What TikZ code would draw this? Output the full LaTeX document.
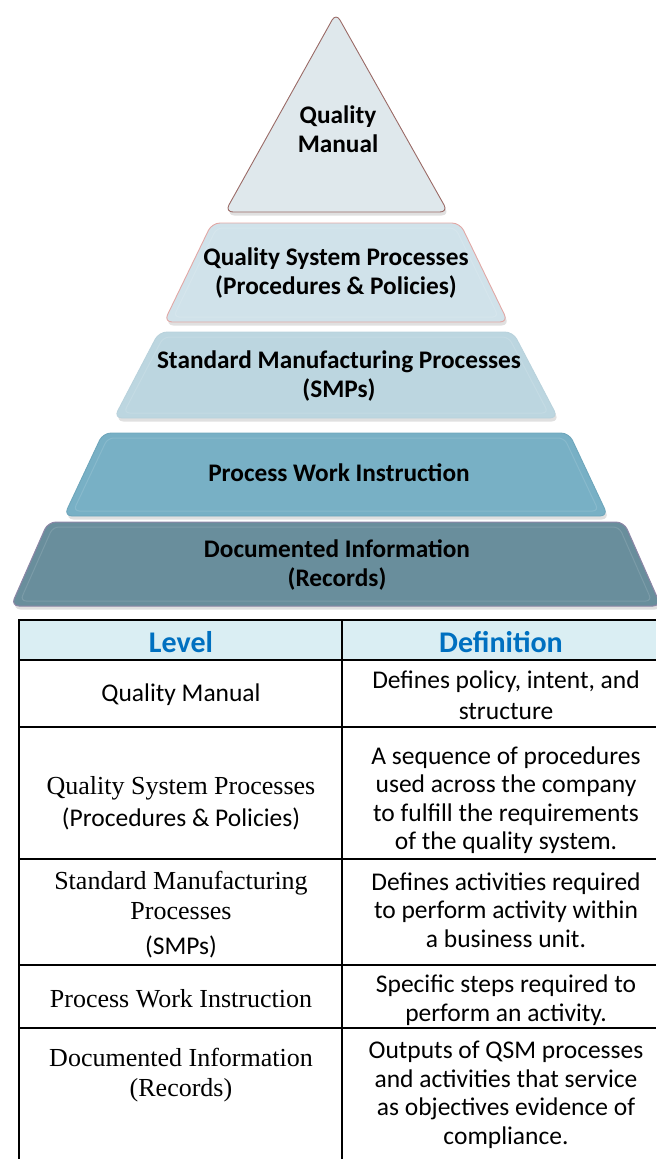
\documentclass[tikz,border=0pt]{standalone}
\usepackage{fontspec}
\setmainfont{Carlito}
\newfontfamily\timesfont{Liberation Serif}
\definecolor{qmfill}{HTML}{DFE8EC}
\definecolor{qmline}{HTML}{9A6A66}
\definecolor{qspfill}{HTML}{D0E2EA}
\definecolor{qspline}{HTML}{E2A7A4}
\definecolor{smpfill}{HTML}{BCD6E0}
\definecolor{smpline}{HTML}{B9D2DC}
\definecolor{pwifill}{HTML}{78B0C5}
\definecolor{pwiline}{HTML}{6FA6BB}
\definecolor{difill}{HTML}{698E9C}
\definecolor{diline}{HTML}{8C86A6}
\definecolor{headfill}{HTML}{DAEEF3}
\definecolor{headtext}{HTML}{0070C0}

% one layer of the pyramid: top y, bottom y, top half width, bottom half width, style
\newcommand\pyrlayer[5]{%
  \pgfmathsetmacro\lslope{(#4-#3)/(#2-#1)}%
  \pgfmathsetmacro\intop{#3+\lslope*5-7}%
  \pgfmathsetmacro\inbot{#4-\lslope*5-7}%
  \fill[layershade,rounded corners=8pt,shift={(1.5,3.5)}]
    (336-#3,#1) -- (336+#3,#1) -- (336+#4,#2) -- (336-#4,#2) -- cycle;
  \path[#5,rounded corners=8pt]
    (336-#3,#1) -- (336+#3,#1) -- (336+#4,#2) -- (336-#4,#2) -- cycle;
  % soft bevel just inside the edge
  \draw[bevel,rounded corners=6pt]
    (336-\intop,#1+5) -- (336+\intop,#1+5)
    -- (336+\inbot,#2-5) -- (336-\inbot,#2-5) -- cycle;
}

\begin{document}
\begin{tikzpicture}[x=1pt,y=-1pt,
  layershade/.style={fill=black,opacity=0.12},
  bevel/.style={draw=white,opacity=0.12,line width=1pt},
  pyrtext/.style={align=center,inner sep=0pt,
    font=\bfseries\fontsize{25.3}{28.5}\selectfont},
  cell/.style={align=center,inner sep=0pt,
    font=\fontsize{25.5}{28.5}\selectfont},
  headcell/.style={inner sep=0pt,text=headtext,
    font=\bfseries\fontsize{30}{34}\selectfont},
  rule/.style={line width=2pt,black}]
\useasboundingbox (0,0) rectangle (656,1159);

% ---- pyramid ----
\fill[layershade,rounded corners=8pt,shift={(1.5,3.5)}]
  (336,13) -- (448,212) -- (225,212) -- cycle;
\path[fill=qmfill,draw=qmline,line width=0.9pt,rounded corners=8pt]
  (336,13) -- (448,212) -- (225,212) -- cycle;
\pyrlayer{223}{322}{124}{172}{fill=qspfill,draw=qspline,line width=0.9pt}
\pyrlayer{332}{418}{177}{222}{fill=smpfill,draw=smpline,line width=0.9pt}
\pyrlayer{433}{516}{233}{272}{fill=pwifill,draw=pwiline,line width=0.9pt}
\pyrlayer{522}{606}{288}{325}{fill=difill,draw=diline,line width=1pt}

\node[pyrtext] (qm)  at (338,129) {Quality\\Manual};
\node[pyrtext] (qsp) at (336,273) {Quality System Processes\\(Procedures \& Policies)};
\node[pyrtext] (smp) at (339,376) {Standard Manufacturing Processes\\(SMPs)};
\node[pyrtext] (pwi) at (339,473) {Process Work Instruction};
\node[pyrtext] (di)  at (337,565) {Documented Information\\(Records)};

% ---- table ----
\newcommand\tms{\timesfont\fontsize{26}{28.5}\selectfont}
\fill[headfill] (19,620) rectangle (656,660);
\draw[rule] (19,620) -- (656,620);
\draw[rule] (19,660) -- (656,660);
\draw[rule] (19,727) -- (656,727);
\draw[rule] (19,859) -- (656,859);
\draw[rule] (19,965) -- (656,965);
\draw[rule] (19,1028) -- (656,1028);
\draw[rule] (19,619) -- (19,1159);
\draw[rule] (342,619) -- (342,1159);

\node[headcell] (hlevel) at (181,642) {Level};
\node[headcell] (hdef)   at (501,642) {Definition};

\node[cell] (l1) at (181,695) {Quality Manual};
\node[cell] (d1) at (506,695) {Defines policy, intent, and\\[2pt]structure};

\node[cell] (l2) at (181,803) {{\tms Quality System Processes}\\[3pt](Procedures \& Policies)};
\node[cell] (d2) at (506,800) {A sequence of procedures\\used across the company\\to fulfill the requirements\\of the quality system.};

\node[cell] (l3) at (181,915) {{\tms Standard Manufacturing}\\[1pt]{\tms Processes}\\[7pt](SMPs)};
\node[cell] (d3) at (506,910) {Defines activities required\\to perform activity within\\a business unit.};

\node[cell] (l4) at (181,999) {\tms Process Work Instruction};
\node[cell] (d4) at (506,1000) {Specific steps required to\\perform an activity.};

\node[cell] (l5) at (181,1075) {{\tms Documented Information}\\[2pt]{\tms (Records)}};
\node[cell] (d5) at (506,1095) {Outputs of QSM processes\\and activities that service\\as objectives evidence of\\compliance.};
\end{tikzpicture}
\end{document}
